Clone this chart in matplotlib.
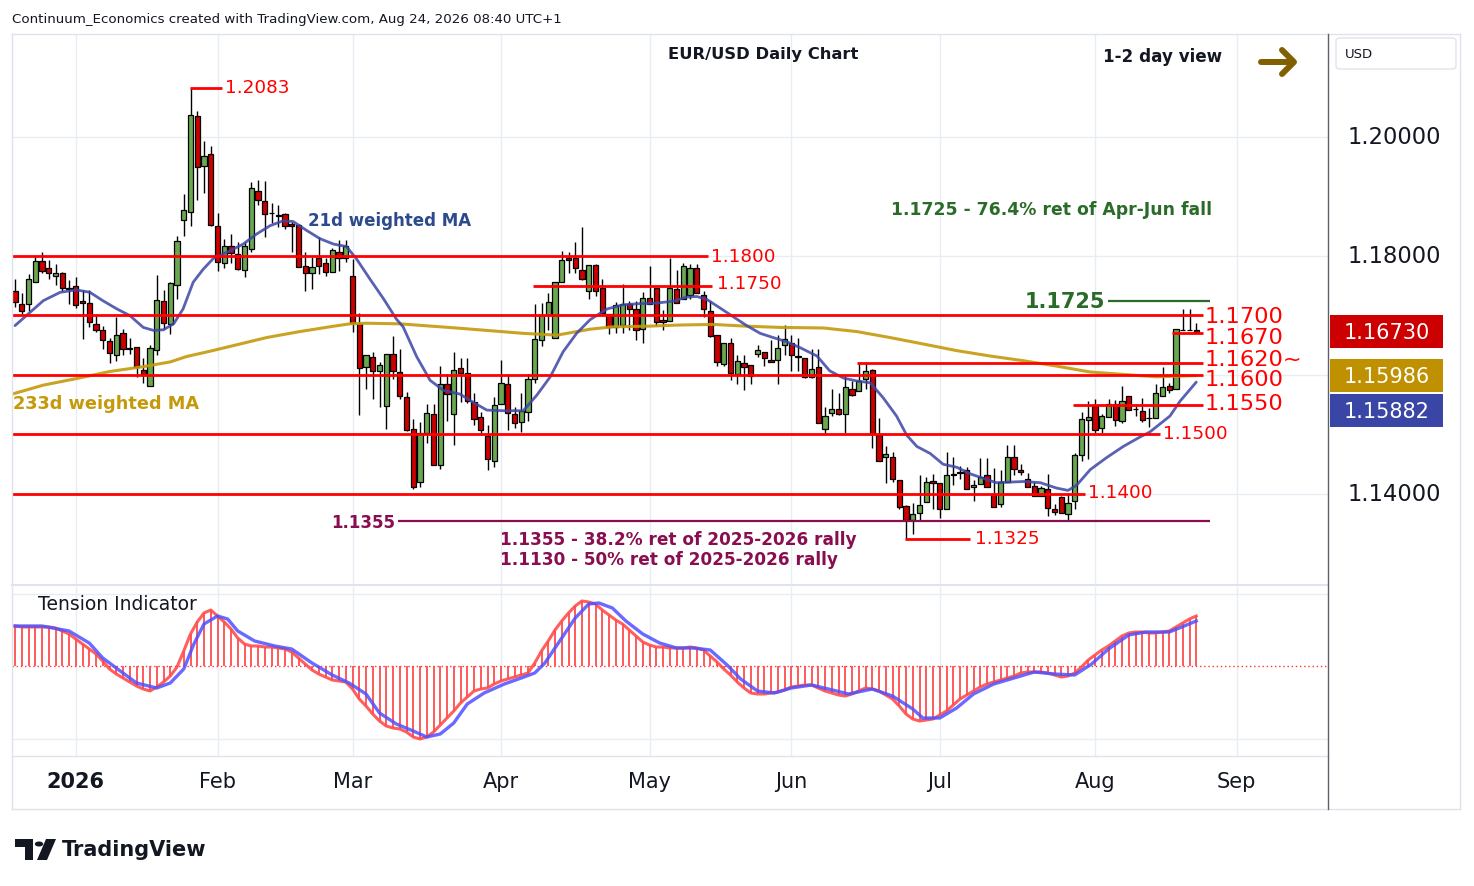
import numpy as np
import pandas as pd
import matplotlib
matplotlib.use("Agg")
import matplotlib.pyplot as plt
from matplotlib.patches import Rectangle, FancyBboxPatch, Polygon, Circle
from matplotlib.lines import Line2D
import matplotlib.transforms as mtransforms

plt.rcParams['font.family'] = ['DejaVu Sans']

# ---------------- DATA ----------------
opens = [
1.1742,1.1719,1.1719,1.1757,1.1791,1.1779,1.1767,1.1771,1.1746,1.1749,
1.1724,1.1721,1.1685,1.1676,1.1657,1.1634,1.1671,1.1646,1.1647,1.1608,
1.1581,1.1642,1.1724,1.1685,1.1752,1.1861,1.1874,1.2036,1.1952,1.1971,
1.1850,1.1788,1.1817,1.1804,1.1776,1.1811,1.1910,1.1893,1.1872,1.1869,
1.1871,1.1854,1.1852,1.1784,1.1771,1.1796,1.1788,1.1773,1.1807,1.1796,
1.1767,1.1686,1.1613,1.1630,1.1607,1.1548,1.1636,1.1605,1.1563,1.1509,
1.1420,1.1502,1.1534,1.1448,1.1585,1.1534,1.1611,1.1603,1.1555,1.1529,
1.1498,1.1455,1.1551,1.1585,1.1534,1.1521,1.1538,1.1594,1.1659,1.1700,
1.1663,1.1756,1.1797,1.1797,1.1776,1.1741,1.1785,1.1746,1.1703,1.1681,
1.1684,1.1719,1.1711,1.1677,1.1729,1.1746,1.1692,1.1690,1.1745,1.1727,
1.1735,1.1780,1.1735,1.1708,1.1668,1.1618,1.1653,1.1602,1.1621,1.1616,
1.1636,1.1638,1.1626,1.1626,1.1651,1.1653,1.1631,1.1629,1.1597,1.1614,
1.1509,1.1536,1.1543,1.1534,1.1577,1.1573,1.1593,1.1608,1.1499,1.1462,
1.1462,1.1424,1.1380,1.1357,1.1368,1.1386,1.1422,1.1419,1.1375,1.1432,
1.1437,1.1440,1.1411,1.1416,1.1432,1.1400,1.1383,1.1420,1.1462,1.1441,
1.1425,1.1413,1.1396,1.1408,1.1374,1.1395,1.1366,1.1388,1.1466,1.1525,
1.1548,1.1511,1.1529,1.1552,1.1522,1.1565,1.1543,1.1539,1.1528,1.1528,
1.1564,1.1581,1.1576,1.1676,1.1676,1.1675]
highs = [
1.1762,1.1737,1.1769,1.1800,1.1806,1.1794,1.1787,1.1773,1.1759,1.1764,
1.1743,1.1743,1.1703,1.1683,1.1663,1.1698,1.1678,1.1663,1.1647,1.1628,
1.1650,1.1768,1.1743,1.1757,1.1834,1.1904,1.2083,1.2044,1.1994,1.1985,
1.1873,1.1829,1.1837,1.1823,1.1824,1.1925,1.1927,1.1926,1.1889,1.1885,
1.1873,1.1857,1.1854,1.1806,1.1798,1.1832,1.1796,1.1813,1.1827,1.1827,
1.1795,1.1705,1.1634,1.1638,1.1622,1.1636,1.1666,1.1643,1.1571,1.1526,
1.1521,1.1551,1.1551,1.1615,1.1602,1.1638,1.1628,1.1628,1.1569,1.1537,
1.1516,1.1563,1.1625,1.1602,1.1546,1.1569,1.1602,1.1719,1.1721,1.1738,
1.1756,1.1808,1.1806,1.1823,1.1848,1.1785,1.1786,1.1762,1.1703,1.1723,
1.1753,1.1724,1.1724,1.1740,1.1783,1.1746,1.1710,1.1796,1.1777,1.1789,
1.1787,1.1786,1.1741,1.1724,1.1668,1.1653,1.1662,1.1633,1.1633,1.1616,
1.1650,1.1638,1.1659,1.1667,1.1684,1.1667,1.1663,1.1629,1.1644,1.1644,
1.1547,1.1577,1.1570,1.1598,1.1590,1.1621,1.1621,1.1610,1.1528,1.1480,
1.1471,1.1424,1.1382,1.1385,1.1432,1.1429,1.1434,1.1419,1.1471,1.1462,
1.1447,1.1446,1.1423,1.1460,1.1460,1.1444,1.1441,1.1483,1.1482,1.1450,
1.1435,1.1421,1.1414,1.1434,1.1383,1.1396,1.1401,1.1469,1.1537,1.1556,
1.1559,1.1534,1.1559,1.1558,1.1581,1.1565,1.1551,1.1562,1.1545,1.1585,
1.1613,1.1587,1.1677,1.1711,1.1711,1.1688]
lows = [
1.1714,1.1703,1.1707,1.1757,1.1772,1.1762,1.1752,1.1742,1.1719,1.1713,
1.1660,1.1681,1.1672,1.1643,1.1621,1.1623,1.1634,1.1635,1.1596,1.1587,
1.1581,1.1634,1.1678,1.1669,1.1728,1.1834,1.1850,1.1894,1.1906,1.1850,
1.1775,1.1779,1.1789,1.1776,1.1765,1.1807,1.1886,1.1832,1.1855,1.1848,
1.1846,1.1806,1.1782,1.1742,1.1745,1.1770,1.1767,1.1773,1.1774,1.1790,
1.1673,1.1532,1.1576,1.1560,1.1547,1.1509,1.1593,1.1560,1.1506,1.1408,
1.1412,1.1485,1.1448,1.1442,1.1523,1.1482,1.1554,1.1553,1.1516,1.1499,
1.1441,1.1445,1.1551,1.1507,1.1511,1.1505,1.1523,1.1586,1.1649,1.1676,
1.1663,1.1756,1.1772,1.1772,1.1759,1.1728,1.1733,1.1702,1.1669,1.1671,
1.1671,1.1676,1.1659,1.1653,1.1719,1.1682,1.1676,1.1690,1.1721,1.1727,
1.1728,1.1738,1.1698,1.1664,1.1615,1.1615,1.1592,1.1585,1.1575,1.1585,
1.1631,1.1615,1.1622,1.1585,1.1634,1.1607,1.1607,1.1595,1.1595,1.1520,
1.1501,1.1531,1.1532,1.1502,1.1564,1.1573,1.1576,1.1477,1.1456,1.1418,
1.1420,1.1375,1.1325,1.1333,1.1354,1.1386,1.1375,1.1360,1.1375,1.1415,
1.1425,1.1408,1.1389,1.1416,1.1412,1.1378,1.1378,1.1420,1.1432,1.1432,
1.1412,1.1396,1.1396,1.1363,1.1365,1.1368,1.1355,1.1374,1.1456,1.1458,
1.1503,1.1503,1.1529,1.1515,1.1519,1.1542,1.1531,1.1521,1.1512,1.1528,
1.1564,1.1569,1.1576,1.1675,1.1675,1.1672]
closes = [
1.1722,1.1708,1.1761,1.1792,1.1775,1.1771,1.1771,1.1746,1.1745,1.1718,
1.1721,1.1689,1.1675,1.1658,1.1637,1.1667,1.1643,1.1643,1.1614,1.1600,
1.1646,1.1726,1.1687,1.1754,1.1826,1.1878,1.2037,1.1950,1.1968,1.1852,
1.1790,1.1816,1.1805,1.1778,1.1816,1.1914,1.1894,1.1871,1.1872,1.1868,
1.1850,1.1850,1.1782,1.1771,1.1781,1.1784,1.1773,1.1810,1.1796,1.1816,
1.1687,1.1611,1.1634,1.1607,1.1616,1.1636,1.1607,1.1564,1.1507,1.1412,
1.1502,1.1536,1.1448,1.1585,1.1568,1.1609,1.1604,1.1557,1.1526,1.1507,
1.1458,1.1550,1.1587,1.1536,1.1520,1.1540,1.1594,1.1660,1.1700,1.1723,
1.1756,1.1793,1.1794,1.1780,1.1762,1.1785,1.1742,1.1704,1.1680,1.1717,
1.1719,1.1711,1.1675,1.1729,1.1719,1.1689,1.1689,1.1746,1.1721,1.1783,
1.1780,1.1738,1.1711,1.1666,1.1622,1.1653,1.1603,1.1624,1.1614,1.1599,
1.1642,1.1629,1.1622,1.1646,1.1660,1.1633,1.1632,1.1597,1.1610,1.1520,
1.1531,1.1543,1.1534,1.1579,1.1566,1.1590,1.1607,1.1501,1.1456,1.1468,
1.1426,1.1378,1.1356,1.1367,1.1382,1.1420,1.1419,1.1375,1.1432,1.1434,
1.1436,1.1408,1.1415,1.1428,1.1412,1.1378,1.1420,1.1462,1.1442,1.1437,
1.1412,1.1397,1.1410,1.1376,1.1369,1.1368,1.1385,1.1466,1.1526,1.1530,
1.1508,1.1531,1.1551,1.1524,1.1556,1.1542,1.1543,1.1524,1.1528,1.1569,
1.1579,1.1574,1.1677,1.1676,1.1675,1.1673]

# 21d weighted MA (bar index, value)
ma21_idx = [0,1.7,4.2,6.7,9.1,11.1,13.0,15.1,17.0,19.0,20.5,22.0,23.5,24.9,26.4,
            27.9,29.4,31.9,33.8,35.8,37.8,39.7,41.2,43.2,45.2,47.2,49.1,50.6,52.6,54.6,
            56.5,57.5,59.5,61.5,63.5,65.9,67.9,69.9,72.3,75.3,77.3,79.3,81.2,83.2,85.2,
            87.7,90.1,92.6,95.1,97.5,99.5,101.0,102.5,104.4,106.4,108.4,110.4,112.3,114.3,116.3,
            118.8,120.7,122.7,124.7,126.7,128.6,130.6,132.1,133.6,135.6,137.5,139.5,141.5,143.5,145.4,
            149.4,151.9,154.3,156.0,157.3,159.3,161.7,164.2,166.7,168.1,171.1,172.6,175.0]
ma21_val = [1.1683,1.1700,1.1725,1.1739,1.1743,1.1739,1.1725,1.1711,1.1700,1.1680,1.1675,1.1676,1.1686,1.1711,1.1756,
            1.1778,1.1796,1.1809,1.1820,1.1837,1.1851,1.1859,1.1858,1.1843,1.1829,1.1820,1.1816,1.1795,1.1761,1.1728,
            1.1694,1.1681,1.1631,1.1591,1.1574,1.1568,1.1554,1.1541,1.1540,1.1540,1.1566,1.1597,1.1639,1.1670,1.1693,
            1.1711,1.1718,1.1720,1.1721,1.1724,1.1731,1.1732,1.1727,1.1713,1.1698,1.1683,1.1670,1.1663,1.1656,1.1646,
            1.1632,1.1607,1.1595,1.1590,1.1587,1.1562,1.1531,1.1499,1.1480,1.1468,1.1450,1.1445,1.1434,1.1426,1.1419,
            1.1421,1.1419,1.1410,1.1406,1.1415,1.1441,1.1461,1.1480,1.1496,1.1504,1.1531,1.1556,1.1588]
# 233d weighted MA
ma233_idx = [-0.7,4.2,9.1,14.1,19.0,23.0,25.4,28.9,33.3,37.3,42.2,47.2,49.6,52.1,57.0,65.4,75.3,80.3,85.2,
             88.6,93.6,98.5,103.5,108.4,113.3,119.8,124.7,129.6,134.6,139.5,144.4,149.4,154.3,159.3,164.2,169.1,175.0]
ma233_val = [1.1567,1.1583,1.1594,1.1606,1.1614,1.1622,1.1631,1.1640,1.1652,1.1663,1.1673,1.1682,1.1686,1.1687,1.1686,
             1.1679,1.1670,1.1667,1.1677,1.1681,1.1682,1.1684,1.1685,1.1682,1.1680,1.1679,1.1673,1.1663,1.1652,1.1641,
             1.1632,1.1624,1.1615,1.1605,1.1601,1.1597,1.1599]

# Tension indicator (one value per bar) and its signal line
tension = [40,39,39,39,39,39,38,35,32,27,
22,17,12,5,-3,-8,-12,-16,-20,-23,
-25,-21,-16,-10,-1,15,32,44,53,56,
50,44,37,28,22,20,20,19,19,18,
17,14,8,2,-4,-8,-11,-14,-15,-16,
-23,-33,-40,-48,-55,-60,-62,-63,-66,-71,
-73,-71,-66,-59,-52,-45,-37,-31,-25,-23,
-22,-18,-15,-13,-11,-9,-7,3,15,25,
36,45,53,60,65,64,62,56,51,46,
42,36,30,24,21,19,19,18,18,18,
19,18,16,10,4,-3,-9,-16,-22,-27,
-28,-28,-27,-26,-24,-21,-20,-19,-19,-22,
-25,-27,-29,-30,-28,-25,-22,-23,-25,-29,
-33,-40,-48,-53,-55,-54,-53,-49,-45,-39,
-33,-29,-25,-21,-18,-16,-14,-12,-10,-7,
-6,-6,-6,-7,-9,-11,-10,-7,-1,6,
11,16,20,25,30,33,34,34,33,33,
34,35,39,43,47,50]
sig_idx = [0,4,8,11,13,16,18,21,23,25,26.5,28,30,31.5,33,35.5,38.5,41,44,47,49.5,52,54,56.5,59,
           61,63,65,67,69.5,72.5,75,77,78.5,81,83,85,86.5,88.5,90.5,93,95.5,98,100.5,103,105.5,107.5,
           110,112.5,115,118,120.5,123.5,127,130,133,134.5,137,139.5,142,145,148,151,154,157,159.5,
           162,165,167.5,171,172.5,175]
sig_val = [40,40,35,23,8,-7,-17,-22,-17,-3,22,42,50,47,35,25,20,17,3,-9,-17,-28,-47,-58,-65,
           -71,-68,-57,-38,-27,-18,-12,-7,3,28,48,62,63,58,45,32,23,18,18,16,1,-13,
           -25,-27,-22,-19,-23,-28,-23,-30,-43,-52,-52,-42,-28,-18,-12,-6,-8,-9,2,
           17,31,34,34,38,45]

# Levels
red_levels = [1.1800, 1.1750, 1.1700, 1.1670, 1.1620, 1.1600, 1.1550, 1.1500, 1.1400, 1.1325, 1.2083]
red_labels = ["1.1800", "1.1750", "1.1700", "1.1670", "1.1620~", "1.1600", "1.1550", "1.1500", "1.1400", "1.1325", "1.2083"]
fib_level = 1.1725
fib_label = "1.1725"
ret_level = 1.1355
ret_label = "1.1355"
tick_prices = [1.14, 1.16, 1.18, 1.20]
tick_texts = ["1.14000", "", "1.18000", "1.20000"]
last_close_txt = "1.16730"
ma233_last_txt = "1.15986"
ma21_last_txt = "1.15882"
month_labels = ["2026", "Feb", "Mar", "Apr", "May", "Jun", "Jul", "Aug", "Sep"]

# ---------------- LAYOUT ----------------
W, H = 1474, 887
def fx(px): return px / W
def fy(py): return 1 - py / H

BAR_PX = 6.75        # pixels per bar
X0_PX = 15           # pixel of first bar
def px2i(px): return (px - X0_PX) / BAR_PX
PPX = 0.02 / 119     # price per pixel
def py2p(py): return 1.2 - (py - 138) * PPX

n = len(opens)
xs = np.arange(n)
dates = pd.bdate_range('2025-12-18', '2026-09-30')
dates = dates[~dates.isin(pd.to_datetime(['2025-12-25', '2026-01-01']))]
month_idx = []
for m in range(1, 10):
    month_idx.append(int(np.where((dates.year == 2026) & (dates.month == m))[0][0]))

fig = plt.figure(figsize=(W / 100, H / 100), dpi=100)
fig.patch.set_facecolor('white')
ax = fig.add_axes([fx(12), fy(585), (1328 - 12) / W, (585 - 35) / H])
ax2 = fig.add_axes([fx(12), fy(757), (1328 - 12) / W, (757 - 588) / H])
for a in (ax, ax2):
    a.set_xlim(px2i(12), px2i(1328))
    for s in a.spines.values():
        s.set_visible(False)
    a.set_xticks([]); a.set_yticks([])
    a.set_facecolor('white')
ax.set_ylim(py2p(585), py2p(35))
ax2.set_ylim(-90, 79)

GRID = '#e8edf3'
for t in month_idx:
    ax.axvline(t, color=GRID, lw=1, zorder=0)
    ax2.axvline(t, color=GRID, lw=1, zorder=0)
for p in tick_prices:
    ax.axhline(p, color=GRID, lw=1, zorder=0)
ax2.axhline(72, color=GRID, lw=1, zorder=0)
ax2.axhline(-73, color=GRID, lw=1, zorder=0)

# candles
UP, DN = '#6aa84f', '#cc0000'
o = np.array(opens); h = np.array(highs); l = np.array(lows); c = np.array(closes)
ax.vlines(xs, l, h, color='black', lw=1.0, zorder=3)
for i in range(n):
    col = UP if c[i] >= o[i] else DN
    ax.add_patch(Rectangle((xs[i] - 0.38, min(o[i], c[i])), 0.76, abs(c[i] - o[i]),
                           facecolor=col, edgecolor='black', lw=0.9, zorder=4))

# moving averages
ax.plot(ma233_idx, ma233_val, color='#c49a0c', lw=2.2, alpha=0.9, zorder=5, solid_capstyle='round')
ax.plot(ma21_idx, ma21_val, color='#3c45a5', lw=2.0, alpha=0.85, zorder=5, solid_capstyle='round')

# levels
RED = '#ff0000'
extents = {1.1800: (px2i(12), px2i(708)), 1.1750: (px2i(533), px2i(712)),
           1.1700: (px2i(12), px2i(1203)), 1.1670: (px2i(1172), px2i(1203)),
           1.1620: (px2i(857), px2i(1203)), 1.1600: (px2i(12), px2i(1203)),
           1.1550: (px2i(1073), px2i(1203)), 1.1500: (px2i(12), px2i(1160)),
           1.1400: (px2i(12), px2i(1085)), 1.1325: (px2i(905), px2i(970)),
           1.2083: (px2i(190), px2i(222))}
for lv in red_levels:
    x0, x1 = extents[lv]
    ax.hlines(lv, x0, x1, color=RED, lw=2, zorder=6)
GREEN = '#2a6b2a'
PURPLE = '#880e4f'
ax.hlines(fib_level, px2i(1108), px2i(1210), color=GREEN, lw=1.6, zorder=6)
ax.hlines(ret_level, px2i(398), px2i(1210), color=PURPLE, lw=1.6, zorder=6)

# level labels: (x_left_px, y_center_px, size)
lab_pos = {"1.1800": (711, 257, 13.2), "1.1750": (717, 284, 13.2),
           "1.1700": (1205, 317, 16.2), "1.1670": (1205, 338, 16.2),
           "1.1620~": (1205, 360, 16.2), "1.1600": (1205, 380, 16.2),
           "1.1550": (1205, 404, 16.2), "1.1500": (1163, 434, 13.2),
           "1.1400": (1088, 493, 13.2), "1.1325": (975, 539, 13.2),
           "1.2083": (225, 88, 13.2)}
for txt in red_labels:
    xp, yp, sz = lab_pos[txt]
    ax.text(px2i(xp), py2p(yp), txt, color=RED, fontsize=sz, ha='left', va='center', zorder=7)
ax.text(px2i(1105), py2p(302), fib_label, color=GREEN, fontsize=15, fontweight='bold',
        ha='right', va='center', zorder=7)
ax.text(px2i(395), py2p(523), ret_label, color=PURPLE, fontsize=12, fontweight='bold',
        ha='right', va='center', zorder=7)

# annotations
ax.text(px2i(308), py2p(221), "21d weighted MA", color='#2c4a8c', fontsize=12.0, fontweight='bold',
        ha='left', va='center', zorder=7)
ax.text(px2i(13), py2p(404), "233d weighted MA", color='#c49a0c', fontsize=12.8, fontweight='bold',
        ha='left', va='center', zorder=7)
ax.text(px2i(891), py2p(210), "1.1725 - 76.4% ret of Apr-Jun fall", color=GREEN, fontsize=12.4,
        fontweight='bold', ha='left', va='center', zorder=7)
ax.text(px2i(500), py2p(540), "1.1355 - 38.2% ret of 2025-2026 rally", color=PURPLE, fontsize=12.2,
        fontweight='bold', ha='left', va='center', zorder=7)
ax.text(px2i(500), py2p(560), "1.1130 - 50% ret of 2025-2026 rally", color=PURPLE, fontsize=12.2,
        fontweight='bold', ha='left', va='center', zorder=7)

# tension indicator
tx = np.arange(len(tension))
ax2.axhline(0, color='#ff3333', lw=1.0, ls=(0, (1, 2)), zorder=1)
ax2.vlines(tx, 0, tension, color='#ff4d4d', lw=1.3, zorder=2)
ax2.plot(tx, tension, color='#ff4d4d', lw=2.2, alpha=0.9, zorder=3)
ax2.plot(sig_idx, sig_val, color='#5050ff', lw=2.4, alpha=0.85, zorder=4)

# time axis labels
tt = mtransforms.blended_transform_factory(ax2.transData, fig.transFigure)
for t, lab in zip(month_idx, month_labels):
    ax2.text(t, fy(782), lab, transform=tt, ha='center', va='center', fontsize=15,
             fontweight='bold' if lab == '2026' else 'normal', color='#131722', clip_on=False)

# price axis labels
pt = mtransforms.blended_transform_factory(fig.transFigure, ax.transData)
for p, s in zip(tick_prices, tick_texts):
    if s:
        ax.text(fx(1348), p, s, transform=pt, ha='left', va='center', fontsize=16.3, color='#131722', clip_on=False)

# price boxes (stacked to avoid overlap)
def p2py(p): return 138 + (1.2 - p) / PPX
boxes = [(closes[-1], last_close_txt, '#cc0000'),
         (ma233_val[-1], ma233_last_txt, '#bf9000'),
         (ma21_val[-1], ma21_last_txt, '#3a46a6')]
prev_bottom = -1e9
for val, txt, col in boxes:
    cy = p2py(val)
    top = cy - 16.5
    if top < prev_bottom + 2:
        top = prev_bottom + 2
    bottom = top + 33
    prev_bottom = bottom
    fig.patches.append(Rectangle((fx(1330), fy(bottom)), (1443 - 1330) / W, 33 / H,
                                 transform=fig.transFigure, facecolor=col, edgecolor='none'))
    fig.text(fx(1386.5), fy((top + bottom) / 2), txt, ha='center', va='center', fontsize=15, color='white')

# frame lines
BORDER = '#e0e3eb'
def fline(x0, y0, x1, y1, col=BORDER, lw=1.0):
    fig.add_artist(Line2D([fx(x0), fx(x1)], [fy(y0), fy(y1)], transform=fig.transFigure, color=col, lw=lw))
fline(12, 35, 1460, 35)
fline(12, 810, 1460, 810)
fline(12, 35, 12, 810)
fline(1460, 35, 1460, 810)
fline(12, 586, 1328, 586, lw=1.5)
fline(12, 757, 1328, 757)
fline(1328, 35, 1328, 810, col='#5d606b', lw=1.0)

# headers
fig.text(fx(12), fy(19), "Continuum_Economics created with TradingView.com, Aug 24, 2026 08:40 UTC+1",
         ha='left', va='center', fontsize=9.6, color='#131722')
fig.text(fx(668), fy(55), "EUR/USD Daily Chart", ha='left', va='center', fontsize=11.8,
         fontweight='bold', color='#131722')
fig.text(fx(1103), fy(57), "1-2 day view", ha='left', va='center', fontsize=12.1,
         fontweight='bold', color='#131722')
fig.text(fx(38), fy(604), "Tension Indicator", ha='left', va='center', fontsize=13.5, color='#131722')

# arrow
ARW = '#806000'
fig.add_artist(Line2D([fx(1261), fx(1292)], [fy(63), fy(63)], transform=fig.transFigure,
                      color=ARW, lw=4.3, solid_capstyle='round'))
fig.add_artist(Line2D([fx(1282), fx(1294), fx(1282)], [fy(51), fy(63), fy(75)], transform=fig.transFigure,
                      color=ARW, lw=4.3, solid_capstyle='round', solid_joinstyle='round'))

# USD box
fig.patches.append(FancyBboxPatch((fx(1336), fy(70)), (1456 - 1336) / W, (70 - 39) / H,
                                  boxstyle='round,pad=0,rounding_size=0.003', transform=fig.transFigure,
                                  facecolor='white', edgecolor=BORDER, lw=1))
fig.text(fx(1345), fy(55), "USD", ha='left', va='center', fontsize=9.5, color='#131722')

# TradingView logo
fig.patches.append(Polygon([(fx(15), fy(840)), (fx(33), fy(840)), (fx(33), fy(861)), (fx(25), fy(861)),
                            (fx(25), fy(848)), (fx(15), fy(848))], closed=True, transform=fig.transFigure,
                           facecolor='#131722', edgecolor='none'))
fig.patches.append(Circle((fx(39), fy(845)), 4.2 / W, transform=fig.transFigure, facecolor='#131722', edgecolor='none'))
fig.patches.append(Polygon([(fx(46), fy(840)), (fx(56), fy(840)), (fx(47), fy(861)), (fx(37), fy(861))],
                           closed=True, transform=fig.transFigure, facecolor='#131722', edgecolor='none'))
fig.text(fx(62), fy(850), "TradingView", ha='left', va='center', fontsize=15, fontweight='bold', color='#131722')

fig.savefig('out.png', dpi=100)
